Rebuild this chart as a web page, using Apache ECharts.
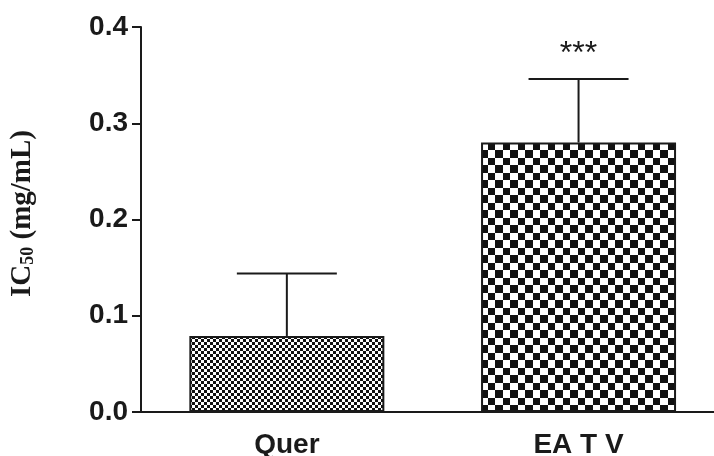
<!DOCTYPE html>
<html>
<head>
<meta charset="utf-8">
<script src="https://cdn.jsdelivr.net/npm/echarts@6/dist/echarts.min.js"></script>
<style>
html,body{margin:0;padding:0;background:#fff;}
#chart{width:714px;height:456px;}
</style>
</head>
<body>
<div id="chart"></div>
<script>
const categories = ['Quer', 'EA T V'];
const means = [0.079, 0.28];
const errors = [0.065, 0.066];
const sigLabels = ['', '***'];
const yMin = 0, yMax = 0.4, yStep = 0.1;

function checker(a, b) {
  const c = document.createElement('canvas');
  c.width = a + b; c.height = a + b;
  const ctx = c.getContext('2d');
  ctx.fillStyle = '#ffffff';
  ctx.fillRect(0, 0, a + b, a + b);
  ctx.fillStyle = '#111111';
  ctx.fillRect(0, 0, a, a);
  ctx.fillRect(a, a, b, b);
  return c;
}
const patterns = [checker(3, 3), checker(8, 7)];

const chart = echarts.init(document.getElementById('chart'), null, {renderer: 'canvas'});
const ink = '#1a1a1a';
chart.setOption({
  animation: false,
  backgroundColor: '#ffffff',
  grid: {left: 141, right: -10.4, top: 27, bottom: 44, outerBoundsMode: 'none', containLabel: false},
  xAxis: {
    type: 'category',
    data: categories,
    axisLine: {lineStyle: {color: ink, width: 2}},
    axisTick: {alignWithLabel: true, length: 13, lineStyle: {color: ink, width: 2}},
    axisLabel: {margin: 19, color: ink, fontFamily: 'Liberation Sans', fontWeight: 'bold', fontSize: 28},
    splitLine: {show: false}
  },
  yAxis: {
    type: 'value',
    min: yMin, max: yMax, interval: yStep,
    axisLine: {show: true, lineStyle: {color: ink, width: 2}},
    axisTick: {show: true, length: 9, lineStyle: {color: ink, width: 2}},
    axisLabel: {margin: 13, color: ink, fontFamily: 'Liberation Sans', fontWeight: 'bold', fontSize: 28,
      formatter: v => v.toFixed(1)},
    splitLine: {show: false},
    name: '{a|IC}{s|50}{a| (mg/mL)}',
    nameLocation: 'middle',
    nameGap: 104,
    nameRotate: 90,
    nameTextStyle: {
      padding: [0, 0, 0, 12],
      rich: {
        a: {fontFamily: 'Liberation Serif', fontWeight: 'bold', fontSize: 29, lineHeight: 29, color: ink},
        s: {fontFamily: 'Liberation Serif', fontWeight: 'bold', fontSize: 18, lineHeight: 14, verticalAlign: 'bottom', color: ink}
      }
    }
  },
  series: [
    {
      type: 'bar',
      barWidth: 195,
      data: means.map((m, i) => ({
        value: m,
        itemStyle: {color: {image: patterns[i], repeat: 'repeat'}, borderColor: ink, borderWidth: 2}
      })),
      z: 2
    },
    {
      type: 'custom',
      data: means.map((m, i) => [i, m, errors[i]]),
      encode: {x: 0, y: 1},
      z: 3,
      renderItem: function (params, api) {
        const i = api.value(0), m = api.value(1), e = api.value(2);
        const p0 = api.coord([i, m]);
        const p1 = api.coord([i, m + e]);
        const hw = 50;
        return {
          type: 'group',
          children: [
            {type: 'line', shape: {x1: p0[0], y1: p0[1], x2: p1[0], y2: p1[1]}, style: {stroke: ink, lineWidth: 2}},
            {type: 'line', shape: {x1: p1[0] - hw, y1: p1[1], x2: p1[0] + hw, y2: p1[1]}, style: {stroke: ink, lineWidth: 2}},
            {type: 'text', x: p1[0], y: p1[1] - 25, style: {text: sigLabels[params.dataIndex], fill: ink,
              font: 'normal 32px "Liberation Sans"', textAlign: 'center', textVerticalAlign: 'middle'}}
          ]
        };
      }
    }
  ]
});
</script>
</body>
</html>
